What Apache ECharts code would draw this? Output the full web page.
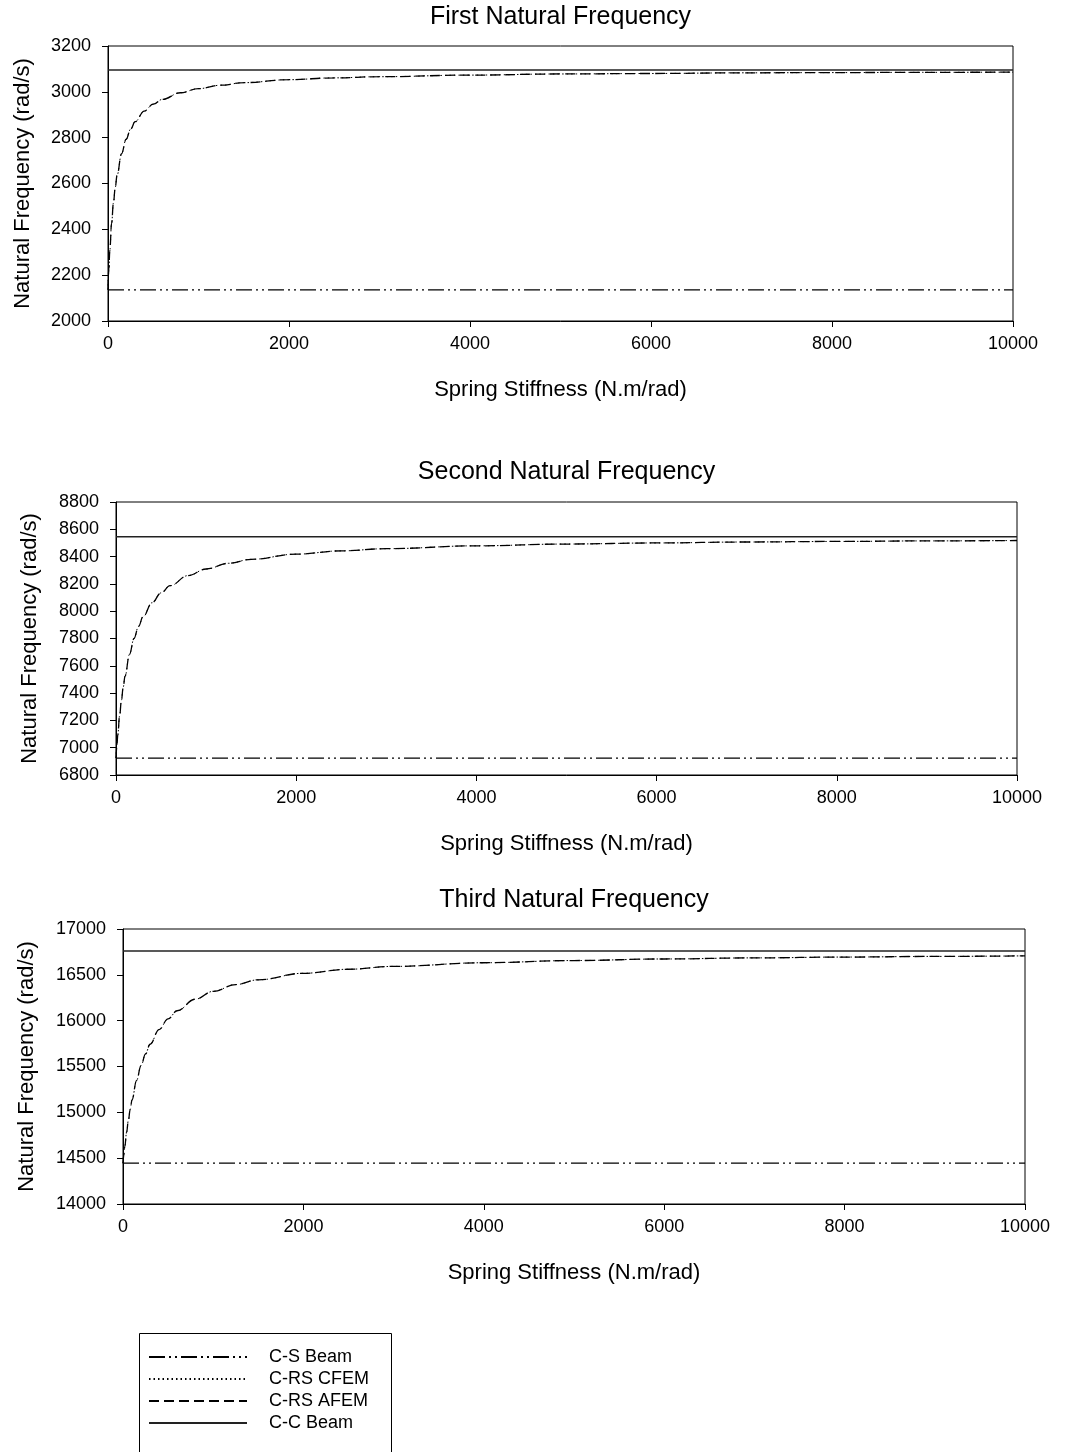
<!DOCTYPE html>
<html>
<head>
<meta charset="utf-8">
<title>Natural Frequency vs Spring Stiffness</title>
<script src="https://cdn.jsdelivr.net/npm/echarts@6/dist/echarts.min.js"></script>
<style>
  html, body { margin: 0; padding: 0; background: #fff; }
  #chart { width: 1067px; height: 1452px; }
</style>
</head>
<body>
<div id="chart"></div>
<script>
// Rotational spring stiffness at the restrained end (N.m/rad)
const stiffness = [0, 10, 20, 40, 60, 80, 100, 150, 200, 250, 300, 400, 500, 600, 800,
  1000, 1250, 1500, 2000, 2500, 3000, 4000, 5000, 6000, 7000, 8000, 9000, 10000];

// Limiting cases: clamped-simply supported and clamped-clamped beams (rad/s), modes 1..3
const csBeam = [2136, 6924, 14445];
const ccBeam = [3095, 8545, 16760];

// Clamped / rotational-spring beam, conventional FE model (rad/s)
const cfemMode1 = [2136, 2230, 2307, 2427, 2515, 2582, 2636, 2730, 2793, 2837, 2870, 2916, 2946, 2967, 2996,
  3014, 3029, 3040, 3053, 3061, 3066, 3073, 3078, 3080, 3083, 3084, 3085, 3086];
const cfemMode2 = [6924, 7014, 7095, 7233, 7347, 7443, 7524, 7684, 7800, 7889, 7959, 8062, 8134, 8187, 8261,
  8309, 8351, 8380, 8418, 8442, 8458, 8479, 8492, 8500, 8507, 8511, 8515, 8518];
const cfemMode3 = [14445, 14540, 14627, 14782, 14916, 15033, 15136, 15347, 15509, 15638, 15743, 15903, 16020, 16108, 16234,
  16320, 16394, 16446, 16517, 16561, 16592, 16632, 16656, 16673, 16685, 16694, 16701, 16707];

// Clamped / rotational-spring beam, alternative FE model (rad/s)
const afemMode1 = [2136, 2230, 2307, 2427, 2515, 2582, 2636, 2730, 2793, 2837, 2870, 2916, 2946, 2967, 2996,
  3014, 3029, 3040, 3053, 3061, 3066, 3073, 3078, 3080, 3083, 3084, 3085, 3086];
const afemMode2 = [6924, 7014, 7095, 7233, 7347, 7443, 7524, 7684, 7800, 7889, 7959, 8062, 8134, 8187, 8261,
  8309, 8351, 8380, 8418, 8442, 8458, 8479, 8492, 8500, 8507, 8511, 8515, 8518];
const afemMode3 = [14445, 14540, 14627, 14782, 14916, 15033, 15136, 15347, 15509, 15638, 15743, 15903, 16020, 16108, 16234,
  16320, 16394, 16446, 16517, 16561, 16592, 16632, 16656, 16673, 16685, 16694, 16701, 16707];

const panelTitles = ['First Natural Frequency', 'Second Natural Frequency', 'Third Natural Frequency'];
const yRanges = [[2000, 3200, 200], [6800, 8800, 200], [14000, 17000, 500]];
const xRange = [0, 10000, 2000];
const seriesNames = ['C-S Beam', 'C-RS CFEM', 'C-RS AFEM', 'C-C Beam'];
const xName = 'Spring Stiffness (N.m/rad)';
const yName = 'Natural Frequency (rad/s)';

const cfem = [cfemMode1, cfemMode2, cfemMode3];
const afem = [afemMode1, afemMode2, afemMode3];

// Panel geometry in pixels
const panels = [
  { left: 108, top: 46, width: 905, height: 275, titleTop: 5, yNameGap: 74 },
  { left: 116, top: 502, width: 901, height: 273, titleTop: 460, yNameGap: 75 },
  { left: 123, top: 929, width: 902, height: 275, titleTop: 888, yNameGap: 85 }
];

const FONT = '"Liberation Sans", Arial, Helvetica, sans-serif';
const BLACK = '#000';

const pairs = (xs, ys) => xs.map((x, i) => [x, ys[i]]);
const plain = v => String(v);

const grids = [], xAxes = [], yAxes = [], titles = [], series = [];

panels.forEach((p, i) => {
  grids.push({
    left: p.left, top: p.top, width: p.width, height: p.height,
    show: true, borderColor: BLACK, borderWidth: 1, backgroundColor: 'transparent'
  });
  titles.push({
    text: panelTitles[i],
    left: p.left + p.width / 2, top: p.titleTop, textAlign: 'center', padding: 0,
    textStyle: { fontFamily: FONT, fontSize: 25, fontWeight: 'normal', color: BLACK }
  });
  xAxes.push({
    gridIndex: i, type: 'value',
    min: xRange[0], max: xRange[1], interval: xRange[2],
    name: xName, nameLocation: 'middle', nameGap: 58,
    nameTextStyle: { fontFamily: FONT, fontSize: 22, color: BLACK },
    axisLine: { show: true, onZero: false, lineStyle: { color: BLACK, width: 1 } },
    axisTick: { show: true, inside: false, length: 6, lineStyle: { color: BLACK } },
    axisLabel: { fontFamily: FONT, fontSize: 18, color: BLACK, margin: 14, formatter: plain },
    splitLine: { show: false }
  });
  yAxes.push({
    gridIndex: i, type: 'value',
    min: yRanges[i][0], max: yRanges[i][1], interval: yRanges[i][2],
    name: yName, nameLocation: 'middle', nameGap: p.yNameGap, nameRotate: 90,
    nameTextStyle: { fontFamily: FONT, fontSize: 22, color: BLACK },
    axisLine: { show: true, onZero: false, lineStyle: { color: BLACK, width: 1 } },
    axisTick: { show: true, inside: false, length: 6, lineStyle: { color: BLACK } },
    axisLabel: { fontFamily: FONT, fontSize: 18, color: BLACK, margin: 17, formatter: plain },
    splitLine: { show: false }
  });

  const base = {
    type: 'line', xAxisIndex: i, yAxisIndex: i, symbol: 'none', silent: true, animation: false,
    itemStyle: { color: BLACK }
  };

  series.push(Object.assign({}, base, {
    name: seriesNames[0],
    data: [[xRange[0], csBeam[i]], [xRange[1], csBeam[i]]],
    lineStyle: { color: BLACK, width: 1.3, type: [16, 4, 2, 4, 2, 4] }
  }));
  series.push(Object.assign({}, base, {
    name: seriesNames[1],
    data: pairs(stiffness, cfem[i]),
    smooth: 0.4, smoothMonotone: 'x',
    lineStyle: { color: BLACK, width: 1, type: [1.5, 3] }
  }));
  series.push(Object.assign({}, base, {
    name: seriesNames[2],
    data: pairs(stiffness, afem[i]),
    smooth: 0.4, smoothMonotone: 'x',
    lineStyle: { color: BLACK, width: 1.3, type: [10, 5] }
  }));
  series.push(Object.assign({}, base, {
    name: seriesNames[3],
    data: [[xRange[0], ccBeam[i]], [xRange[1], ccBeam[i]]],
    lineStyle: { color: '#222', width: 1.6, type: 'solid' }
  }));
});

const chart = echarts.init(document.getElementById('chart'), null, { renderer: 'canvas' });
chart.setOption({
  backgroundColor: '#fff',
  animation: false,
  title: titles,
  grid: grids,
  xAxis: xAxes,
  yAxis: yAxes,
  legend: {
    data: seriesNames,
    orient: 'vertical',
    left: 148, top: 1347,
    padding: 0,
    itemWidth: 98, itemHeight: 20, itemGap: 2,
    selectedMode: false,
    itemStyle: { opacity: 0 },
    textStyle: { fontFamily: FONT, fontSize: 18, color: BLACK, lineHeight: 20, padding: [0, 0, 0, 17] }
  },
  // Legend frame; its lower edge runs past the bottom of the page
  graphic: [{
    type: 'rect', left: 137, top: 1331, silent: true,
    shape: { width: 252, height: 140 },
    style: { fill: 'none', stroke: BLACK, lineWidth: 1 }
  }],
  series: series
});
</script>
</body>
</html>
